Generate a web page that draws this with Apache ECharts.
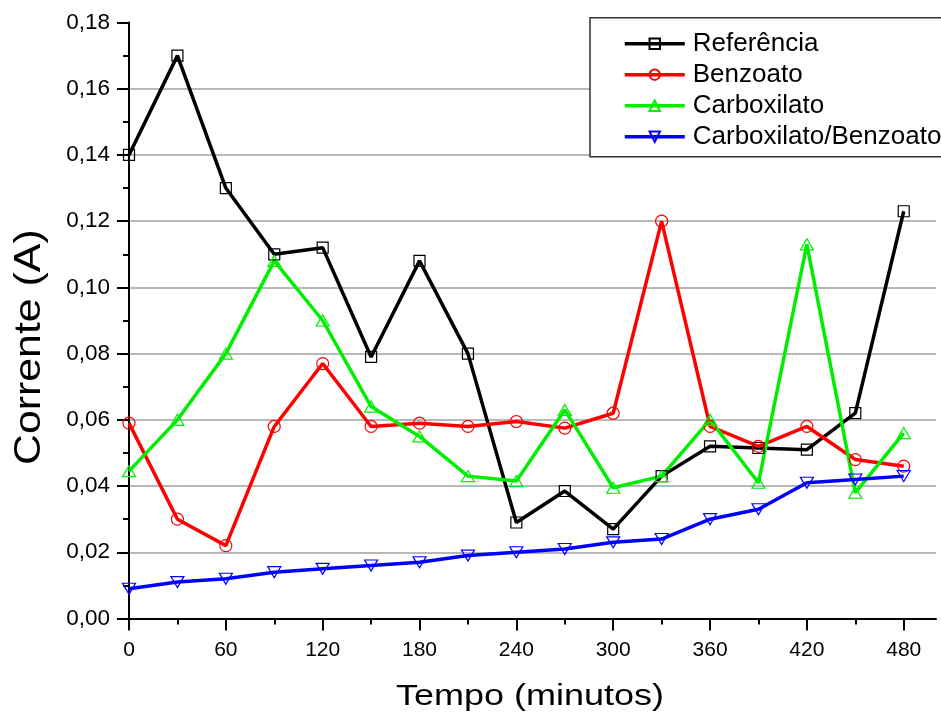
<!DOCTYPE html>
<html><head><meta charset="utf-8">
<script src="https://cdn.jsdelivr.net/npm/echarts@6/dist/echarts.min.js"></script>
<style>html,body{margin:0;padding:0;background:#fff}#c{width:941px;height:717px}</style>
</head><body><div id="c"></div>
<script>
const tempo = [0,30,60,90,120,150,180,210,240,270,300,330,360,390,420,450,480];
const referencia = [0.140,0.170,0.130,0.110,0.112,0.079,0.108,0.080,0.029,0.0385,0.027,0.043,0.052,0.0515,0.051,0.062,0.123];
const benzoato = [0.059,0.030,0.022,0.058,0.077,0.058,0.059,0.058,0.0595,0.0575,0.062,0.120,0.058,0.052,0.058,0.048,0.046];
const carboxilato = [0.0445,0.060,0.080,0.108,0.090,0.064,0.055,0.043,0.0415,0.063,0.0395,0.043,0.060,0.041,0.113,0.038,0.056];
const carbBenz = [0.009,0.011,0.012,0.014,0.015,0.016,0.017,0.019,0.020,0.021,0.023,0.024,0.030,0.033,0.041,0.042,0.043];
const seriesNames = ['Referência','Benzoato','Carboxilato','Carboxilato/Benzoato'];
const xMajorTicks = [0,60,120,180,240,300,360,420,480];
const xMinorTicks = [30,90,150,210,270,330,390,450];
const xTitle = 'Tempo (minutos)';
const yTitle = 'Corrente (A)';

const FONT = 'Liberation Sans, Arial, sans-serif';
const pairs = arr => tempo.map((t,i)=>[t, arr[i]]);

function mkSeries(name, arr, color, symbol, size, rotate) {
  return {
    type:'line', name, data: pairs(arr), xAxisIndex:0, yAxisIndex:0,
    symbol, symbolSize:size, symbolRotate: rotate || 0, showAllSymbol:true,
    lineStyle:{color, width:3.5},
    itemStyle:{color:'rgba(0,0,0,0)', borderColor:color, borderWidth:1.2},
    emphasis:{disabled:true}
  };
}

const chart = echarts.init(document.getElementById('c'), null, {renderer:'canvas'});
chart.setOption({
  animation:false,
  backgroundColor:'#fff',
  grid:{left:129, right:5, top:22.5, bottom:98.5, containLabel:false},
  xAxis:[{
    type:'value', min:0, max:500, interval:60, position:'bottom',
    axisLine:{show:true, onZero:false, lineStyle:{color:'#000', width:2}},
    axisTick:{show:true, customValues:xMajorTicks, length:12, lineStyle:{color:'#000', width:2}},
    minorTick:{show:false},
    axisLabel:{customValues:xMajorTicks, fontSize:21, fontFamily:FONT, color:'#000', margin:21},
    splitLine:{show:false}
  },{
    type:'value', min:0, max:500, interval:60, position:'bottom',
    axisLine:{show:false},
    axisTick:{show:true, customValues:xMinorTicks, length:6, lineStyle:{color:'#000', width:2}},
    axisLabel:{show:false},
    splitLine:{show:false}
  }],
  yAxis:{
    type:'value', min:0, max:0.18, interval:0.02,
    axisLine:{show:true, onZero:false, lineStyle:{color:'#000', width:2}},
    axisTick:{show:true, length:12, lineStyle:{color:'#000', width:2}},
    minorTick:{show:true, splitNumber:2, length:6, lineStyle:{color:'#000', width:2}},
    axisLabel:{formatter:v=>v.toFixed(2).replace('.',','), fontSize:22.5, fontFamily:FONT, color:'#000', margin:19},
    splitLine:{show:true, showMinLine:false, showMaxLine:false, lineStyle:{color:'#a0a0a0', width:1.5}}
  },
  legend:{
    orient:'vertical', left:590, top:17.7, itemWidth:60, itemHeight:13, itemGap:5,
    padding:[13,2,7,33], backgroundColor:'#fff', borderColor:'#333', borderWidth:1.5, borderRadius:0,
    lineStyle:{width:3.5},
    textStyle:{fontSize:26, fontFamily:FONT, color:'#000', lineHeight:26, padding:[0,0,0,3]},
    data:seriesNames
  },
  graphic:[
    {type:'text', x:530, y:697, scaleX:1.2, style:{text:xTitle, fontSize:30, fontFamily:FONT, fill:'#000', align:'center', verticalAlign:'middle'}},
    {type:'text', x:30.5, y:465, rotation:Math.PI/2, scaleX:1.19, style:{text:yTitle, fontSize:36, fontFamily:FONT, fill:'#000', align:'left', verticalAlign:'middle'}}
  ],
  series:[
    mkSeries(seriesNames[0], referencia, '#000000', 'rect', 11),
    mkSeries(seriesNames[1], benzoato, '#ff0000', 'circle', 12),
    mkSeries(seriesNames[2], carboxilato, '#00ee00', 'triangle', [13,11]),
    mkSeries(seriesNames[3], carbBenz, '#0000ff', 'triangle', [13,11], 180)
  ]
});
</script></body></html>
